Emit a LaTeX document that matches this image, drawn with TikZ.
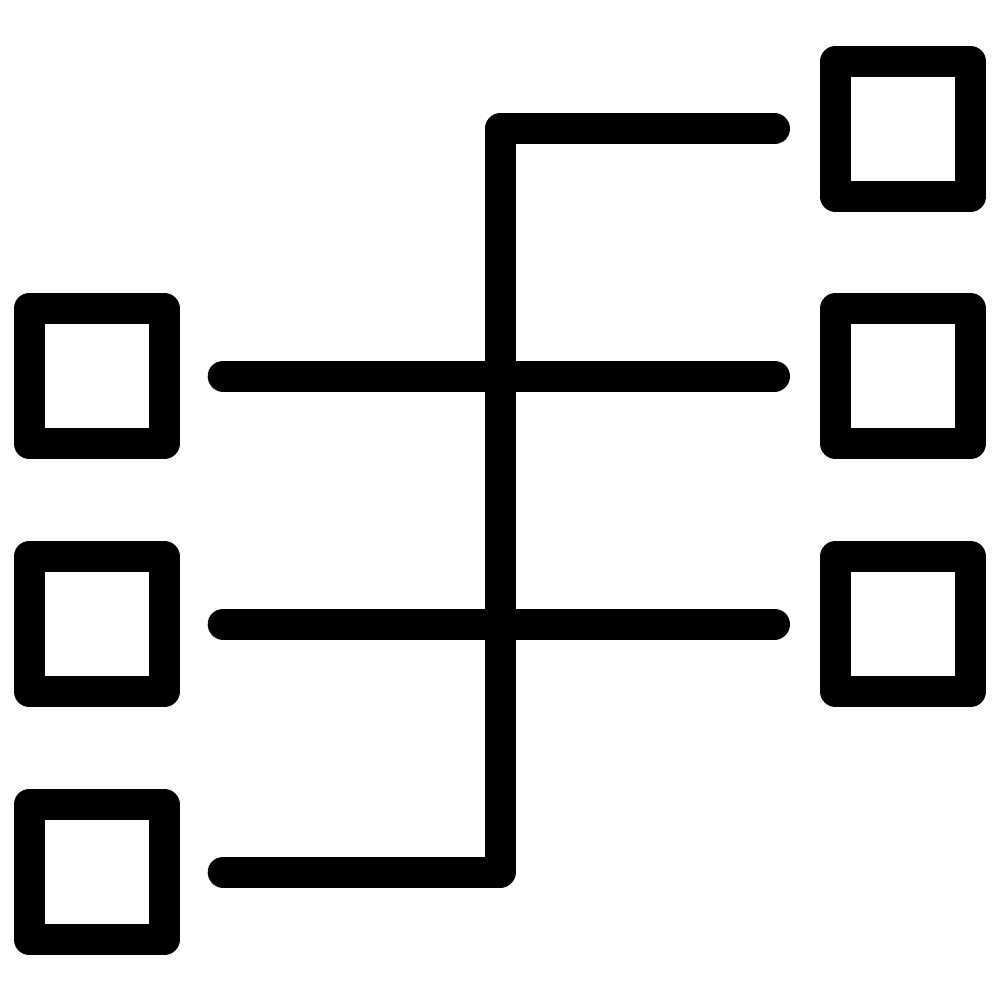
\documentclass[tikz,border=0pt]{standalone}
\begin{document}
\begin{tikzpicture}[x=1pt,y=-1pt,
  sq/.style={draw=black,line width=31pt,line join=round,minimum size=135pt,inner sep=0pt,fill=none},
  link/.style={draw=black,line width=31pt,line cap=round,line join=round,shorten <=43.5pt,shorten >=45.5pt}]
\useasboundingbox[fill=white] (0,0) rectangle (1000,1000);
\node[sq] (L1) at (96.7,376) {};
\node[sq] (L2) at (96.7,624) {};
\node[sq] (L3) at (96.7,872) {};
\node[sq] (R1) at (903,129) {};
\node[sq] (R2) at (903,376) {};
\node[sq] (R3) at (903,624) {};
\coordinate (sp) at (500,500);
\draw[link] (L1.east) -- (R2.west);
\draw[link] (L2.east) -- (R3.west);
\draw[link] (L3.east) -| (sp |- R1.west) -- (R1.west);
\end{tikzpicture}
\end{document}
